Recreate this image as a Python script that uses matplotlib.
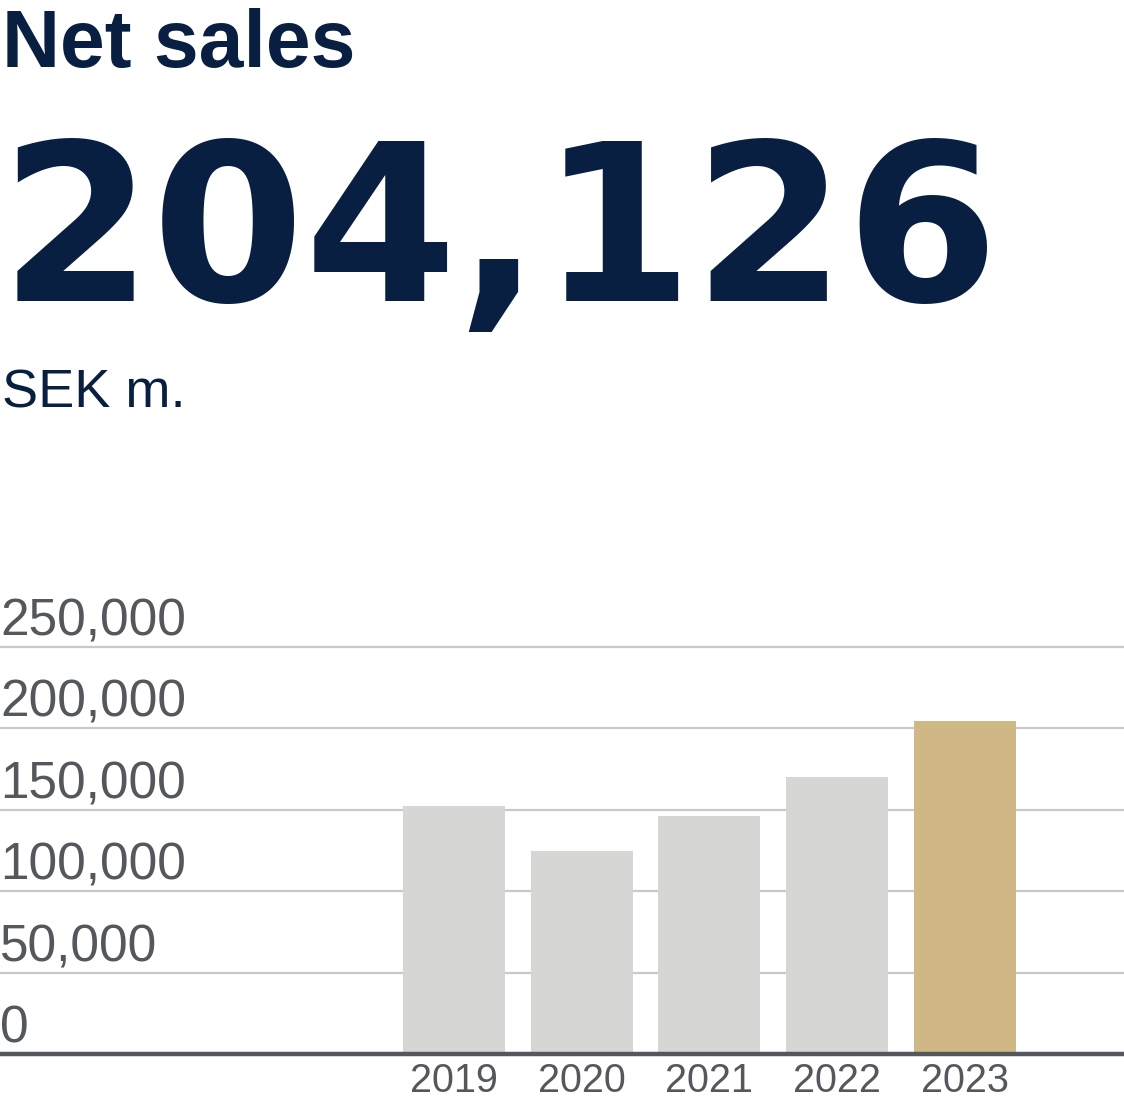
import matplotlib
matplotlib.use("Agg")
import matplotlib.pyplot as plt
from matplotlib.transforms import blended_transform_factory

# ---- data ----
years = ["2019", "2020", "2021", "2022", "2023"]
net_sales = [152000, 125000, 146000, 170000, 204126]
y_ticks = [0, 50000, 100000, 150000, 200000, 250000]
y_tick_labels = ["0", "50,000", "100,000", "150,000", "200,000", "250,000"]
title = "Net sales"
headline = "204,126"
unit = "SEK m."

# ---- style ----
NAVY = "#081f42"
GREY_TXT = "#54575c"
GRID = "#c9c9c9"
BAR = "#d6d6d4"
GOLD = "#cfb886"

W, H = 1124, 1102
DPI = 100
fig = plt.figure(figsize=(W / DPI, H / DPI), dpi=DPI)
fig.patch.set_facecolor("white")

# axes placement (pixels)
ax_bottom_px = 1054.3
ax_top_px = 646.7
ax = fig.add_axes([0, 1 - ax_bottom_px / H, 1, (ax_bottom_px - ax_top_px) / H])
ax.set_facecolor("none")

x = list(range(len(years)))
colors = [BAR] * (len(years) - 1) + [GOLD]
ax.bar(x, net_sales, width=0.8, color=colors, zorder=3)

ax.set_ylim(0, 250000)
ax.set_xlim(-3.555, 5.247)

for v in y_ticks[1:]:
    ax.axhline(v, color=GRID, lw=1.6, zorder=1, clip_on=False)
ax.axhline(0, color=GREY_TXT, lw=3.2, zorder=4, clip_on=False)

for s in ax.spines.values():
    s.set_visible(False)
ax.set_xticks([])
ax.set_yticks([])

trans = blended_transform_factory(ax.transAxes, ax.transData)
for v, lab in zip(y_ticks, y_tick_labels):
    ax.annotate(lab, xy=(0, v), xycoords=trans, xytext=(0, 11.5),
                textcoords="offset pixels", ha="left", va="baseline",
                fontsize=37, color=GREY_TXT, family="Liberation Sans")

for xi, yr in zip(x, years):
    ax.annotate(yr, xy=(xi, 0), xycoords="data", xytext=(0, -38),
                textcoords="offset pixels", ha="center", va="baseline",
                fontsize=28.5, color=GREY_TXT, family="Liberation Sans",
                annotation_clip=False)

# ---- header texts ----
def fx(px):
    return px / W

def fy(py):
    return 1 - py / H

fig.text(fx(2), fy(67), title, fontsize=58, fontweight="bold",
         color=NAVY, family="Liberation Sans", va="baseline", ha="left")
fig.text(fx(0), fy(301), headline, fontsize=158, fontweight="bold",
         color=NAVY, family="DejaVu Sans", va="baseline", ha="left")
fig.text(fx(2), fy(407), unit, fontsize=39, color=NAVY,
         family="Liberation Sans", va="baseline", ha="left")

fig.savefig("out.png", dpi=DPI, facecolor="white")
